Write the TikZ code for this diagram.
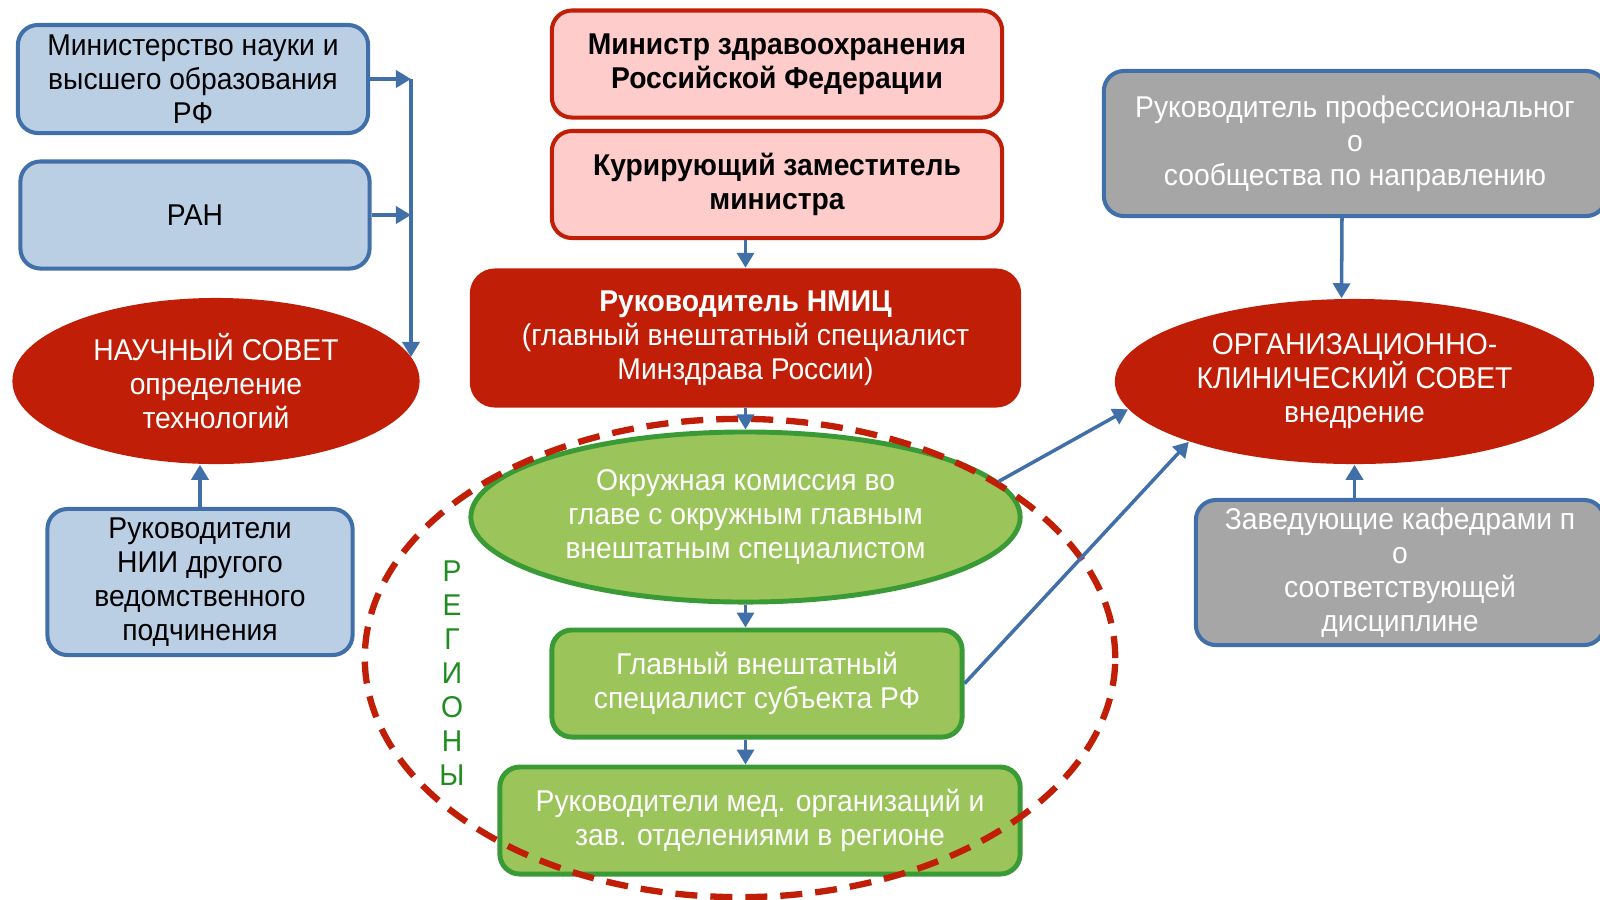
\documentclass[tikz,border=0pt]{standalone}
\usepackage{fontspec}
\setmainfont{Liberation Sans}[FakeStretch=0.94]
\usetikzlibrary{shapes.geometric,arrows.meta}

\definecolor{edgeblue}{RGB}{65,112,168}
\definecolor{fillblue}{RGB}{186,206,228}
\definecolor{darkred}{RGB}{192,30,6}
\definecolor{pinkfill}{RGB}{255,204,204}
\definecolor{greenfill}{RGB}{155,196,90}
\definecolor{greenedge}{RGB}{58,154,53}
\definecolor{grayfill}{RGB}{166,166,166}
\definecolor{regiongreen}{RGB}{30,140,30}

\tikzset{
  every node/.style={font=\fontsize{8.55}{9.65}\selectfont, align=center, inner sep=0pt},
  bluebox/.style={draw=edgeblue, fill=fillblue, line width=1.15pt, rounded corners=0.2cm},
  pinkbox/.style={draw=darkred, fill=pinkfill, line width=1.15pt, rounded corners=0.2cm, font=\fontsize{8.55}{9.65}\selectfont\bfseries},
  nmicbox/.style={fill=darkred, rounded corners=0.25cm, text=white},
  greenbox/.style={draw=greenedge, fill=greenfill, line width=1.4pt, rounded corners=0.2cm, text=white},
  graybox/.style={draw=edgeblue, fill=grayfill, line width=1.15pt, rounded corners=0.2cm, text=white},
  redell/.style={ellipse, fill=darkred, text=white},
  greenell/.style={ellipse, draw=greenedge, fill=greenfill, line width=1.4pt, text=white},
  arr/.style={-{Triangle[length=1.5mm,width=1.7mm]}, draw=edgeblue, fill=edgeblue, line width=1pt},
  regline/.style={draw=darkred, line width=1.8pt, dash pattern=on 0.22cm off 0.13cm},
}

\begin{document}
\begin{tikzpicture}[x=0.01cm, y=-0.01cm]
    % ==== Frame: 1600 x 899 ====
    \useasboundingbox (0,0) rectangle (1600,899);

    % Left column
    \node[bluebox, minimum width=3.50cm, minimum height=1.08cm] (minsci) at (193,79) {Министерство науки и\\высшего образования\\РФ};
    \node[bluebox, minimum width=3.49cm, minimum height=1.07cm] (ran) at (195,215) {РАН};
    \node[redell, minimum width=4.07cm, minimum height=1.66cm] (nsov) at (216,381) {НАУЧНЫЙ СОВЕТ\\определение\\технологий};
    \node[bluebox, minimum width=3.05cm, minimum height=1.46cm] (nii) at (200,582) {Руководители\\НИИ другого\\ведомственного\\подчинения};

    % Centre column
    \node[pinkbox, minimum width=4.50cm, minimum height=1.07cm] (minz) at (777,64) {Министр здравоохранения\\Российской Федерации};
    \node[pinkbox, minimum width=4.50cm, minimum height=1.07cm] (kur) at (777,184.5) {Курирующий заместитель\\министра};
    \node[nmicbox, minimum width=5.51cm, minimum height=1.39cm] (nmic) at (745.5,338) {\textbf{Руководитель НМИЦ}\\(главный внештатный специалист\\Минздрава России)};
    \node[greenell, minimum width=5.49cm, minimum height=1.70cm] (okr) at (745.5,517) {Окружная комиссия во\\главе с окружным главным\\внештатным специалистом};
    \node[greenbox, minimum width=4.10cm, minimum height=1.07cm] (glav) at (757,683.5) {Главный внештатный\\специалист субъекта РФ};
    \node[greenbox, minimum width=5.20cm, minimum height=1.07cm] (ruk) at (760,820.5) {Руководители мед. организаций и\\зав. отделениями в регионе};

    % Right column
    \node[graybox, minimum width=5.02cm, minimum height=1.45cm] (prof) at (1355,143.5) {Руководитель профессиональног\\о\\сообщества по направлению};
    \node[redell, minimum width=4.79cm, minimum height=1.65cm] (org) at (1354.5,381.5) {ОРГАНИЗАЦИОННО-\\КЛИНИЧЕСКИЙ СОВЕТ\\внедрение};
    \node[graybox, minimum width=4.08cm, minimum height=1.45cm] (zav) at (1400,572.5) {Заведующие кафедрами п\\о\\соответствующей\\дисциплине};

    % Regions
    \draw[regline] (740,658) ellipse [x radius=3.75cm, y radius=2.39cm];
    \node[text=regiongreen] (reg) at (452,673) {Р\\Е\\Г\\И\\О\\Н\\Ы};

    % Connectors
    \coordinate (bus) at (411,79);
    \draw[arr] (minsci.east) -- (bus);
    \draw[arr] (ran.east) -- (ran.east -| bus);
    \draw[arr] (bus) -- (bus |- nsov.7);
    \draw[arr] (nii.north) -- (nii.north |- nsov.south);
    \draw[arr] (kur.south -| nmic.north) -- (nmic.north);
    \draw[arr] (nmic.south) -- (okr.north);
    \draw[arr] (okr.south) -- (okr.south |- glav.north);
    \draw[arr] (glav.south -| okr.south) -- (ruk.north -| okr.south);
    \draw[arr] (okr.8) -- (org.187);
    \draw[arr] (glav.east) -- (org.200);
    \draw[arr] ([xshift=-0.13cm]prof.south) -- ([xshift=-0.13cm]org.north);
    \draw[arr] (zav.north -| org.south) -- (org.south);
\end{tikzpicture}
\end{document}
